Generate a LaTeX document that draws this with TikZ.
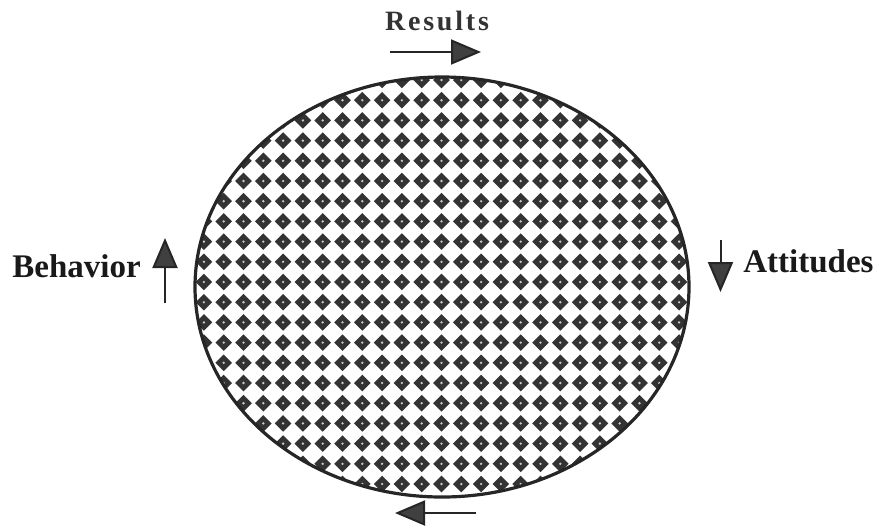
\documentclass[tikz,border=0pt]{standalone}
\usepackage{fontspec}
\setmainfont{Liberation Serif}
\usetikzlibrary{arrows.meta}
\tikzset{
  lbl/.style={font=\fontsize{16.5}{18}\selectfont\bfseries, inner sep=0pt, text=black!90},
  flow/.style={line width=1pt, draw=black!85, -{Triangle[length=15pt,width=12.5pt,fill=black!75]}},
  dia/.style={fill=black!80},
  rim/.style={draw=black!85, line width=1.6pt}
}
\begin{document}
\begin{tikzpicture}[x=0.5pt,y=-0.5pt]
\useasboundingbox (0,0) rectangle (883,527);
\coordinate (c) at (442,287);
% patterned ellipse
\begin{scope}
  \clip (c) ellipse [x radius=247, y radius=210];
  \foreach \i in {-13,...,13}{
    \foreach \j in {-11,...,11}{
      \path[dia] (441.5+19.8*\i, 282+20.2*\j) ++(0,-8.3) -- ++(8.3,8.3) -- ++(-8.3,8.3) -- ++(-8.3,-8.3) -- cycle;
      \fill[white!80!black] (441.5+19.8*\i, 282+20.2*\j) circle [radius=1.3];
    }
  }
\end{scope}
\draw[rim] (c) ellipse [x radius=247, y radius=210];
% labels
\node[lbl, font=\fontsize{14}{16}\selectfont\bfseries\addfontfeature{LetterSpace=10}, text=black!80] (res) at (437,21) {Results};
\node[lbl, anchor=base west] (beh) at (12,277) {Behavior};
\node[lbl, anchor=base west] (att) at (743,272) {Attitudes};
% arrows
\coordinate (r1) at (390,52); \coordinate (r2) at (481,52);
\draw[flow] (r1) -- (r2);
\coordinate (b1) at (165,303); \coordinate (b2) at (165,238);
\draw[flow] (b1) -- (b2);
\coordinate (a1) at (720.5,240); \coordinate (a2) at (720.5,292);
\draw[flow] (a1) -- (a2);
\coordinate (d1) at (476,513); \coordinate (d2) at (395,513);
\draw[flow] (d1) -- (d2);
\end{tikzpicture}
\end{document}
